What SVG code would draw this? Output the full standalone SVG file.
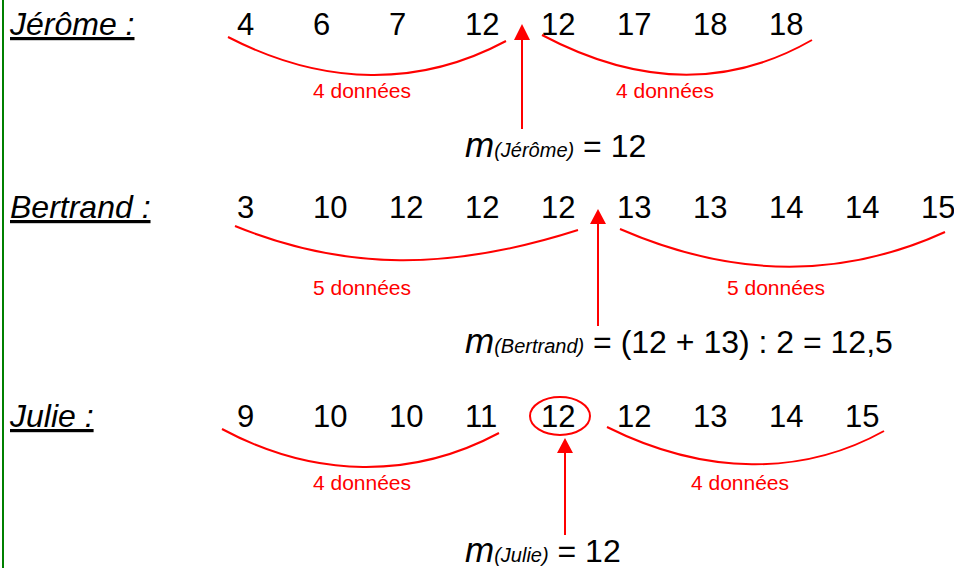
<svg xmlns="http://www.w3.org/2000/svg" width="954" height="568" viewBox="0 0 954 568">
<style>
text{font-family:"Liberation Sans",Arial,sans-serif}
.lbl{font-size:32px;font-style:italic;text-decoration:underline}
.num{font-size:31px;fill:#000}
.red{font-size:21px;fill:#ff0000}
.brace{fill:none;stroke:#ff0000;stroke-width:2}
.arr{stroke:#ff0000;stroke-width:2}
.m{font-size:35px;font-style:italic}
.sub{font-size:20px;font-style:italic}
.eq{font-size:32px}
</style>
<line x1="3" y1="0" x2="3" y2="568" stroke="#008000" stroke-width="2"/>

<g id="jerome">
<text class="lbl" x="10" y="35">Jérôme :</text>
<text class="num" y="35"><tspan x="237">4</tspan><tspan x="313">6</tspan><tspan x="389">7</tspan><tspan x="465">12</tspan><tspan x="541">12</tspan><tspan x="617">17</tspan><tspan x="693">18</tspan><tspan x="769">18</tspan></text>
<text class="red" x="362" y="98" text-anchor="middle">4 données</text>
<text class="red" x="665" y="98" text-anchor="middle">4 données</text>
<text y="157" x="465"><tspan class="m">m</tspan><tspan class="sub">(Jérôme)</tspan><tspan class="eq"> = 12</tspan></text>
</g>

<g id="bertrand">
<text class="lbl" x="10" y="218">Bertrand :</text>
<text class="num" y="218"><tspan x="237">3</tspan><tspan x="313">10</tspan><tspan x="389">12</tspan><tspan x="465">12</tspan><tspan x="541">12</tspan><tspan x="617">13</tspan><tspan x="693">13</tspan><tspan x="769">14</tspan><tspan x="845">14</tspan><tspan x="921">15</tspan></text>
<text class="red" x="362" y="295" text-anchor="middle">5 données</text>
<text class="red" x="776" y="295" text-anchor="middle">5 données</text>
<text y="353" x="465"><tspan class="m">m</tspan><tspan class="sub">(Bertrand)</tspan><tspan class="eq"> = (12 + 13) : 2 = 12,5</tspan></text>
</g>

<g id="julie">
<text class="lbl" x="10" y="427">Julie :</text>
<text class="num" y="427"><tspan x="237">9</tspan><tspan x="313">10</tspan><tspan x="389">10</tspan><tspan x="465">11</tspan><tspan x="541">12</tspan><tspan x="617">12</tspan><tspan x="693">13</tspan><tspan x="769">14</tspan><tspan x="845">15</tspan></text>
<ellipse cx="560" cy="416" rx="30" ry="19" fill="none" stroke="#ff0000" stroke-width="2"/>
<text class="red" x="362" y="490" text-anchor="middle">4 données</text>
<text class="red" x="740" y="490" text-anchor="middle">4 données</text>
<text y="562" x="465"><tspan class="m">m</tspan><tspan class="sub">(Julie)</tspan><tspan class="eq"> = 12</tspan></text>
</g>

<g id="connectors">
<path class="brace" d="M228,37 C325,87 420,87 506,41"/>
<path class="brace" d="M542,35 C640,87 730,87 812,40"/>
<path class="brace" d="M235,226 C345,271 450,271 578,230"/>
<path class="brace" d="M620,229 C735,279 842,279 945,232"/>
<path class="brace" d="M222,429 C315,479 413,479 499,433"/>
<path class="brace" d="M607,427 C705,476 803,476 884,431"/>
<line class="arr" x1="522" y1="129" x2="522" y2="38"/>
<polygon points="522,24 514,40 530,40" fill="#ff0000"/>
<line class="arr" x1="598" y1="326" x2="598" y2="222"/>
<polygon points="598,209 590,224 606,224" fill="#ff0000"/>
<line class="arr" x1="565" y1="535" x2="565" y2="451"/>
<polygon points="565,438 557,453 573,453" fill="#ff0000"/>
</g>
</svg>
